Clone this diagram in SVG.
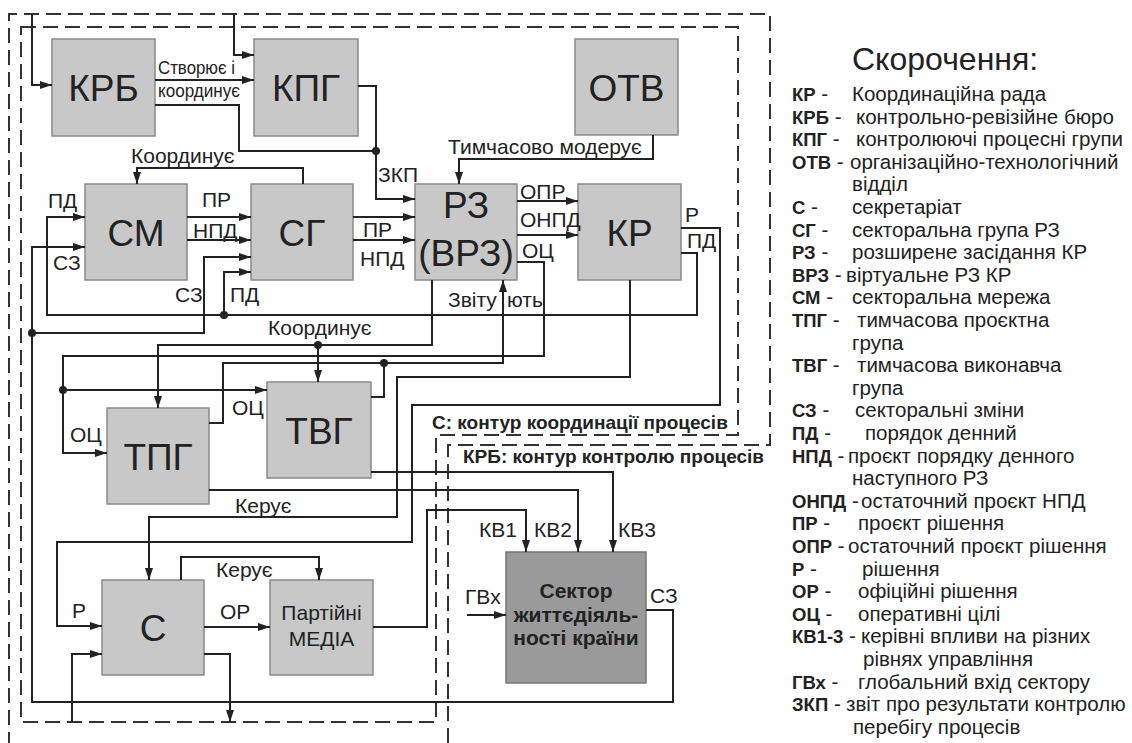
<svg xmlns="http://www.w3.org/2000/svg" width="1132" height="743" viewBox="0 0 1132 743">
<defs>
<marker id="arr" viewBox="0 0 12 8" refX="12" refY="4" markerWidth="12" markerHeight="8" markerUnits="userSpaceOnUse" orient="auto"><path d="M0,0 L12,4 L0,8 z" fill="#222"/></marker>
<style>
text{font-family:"Liberation Sans",Arial,sans-serif;fill:#222}
.n{fill:#c8c8c8;stroke:#8a8a8a;stroke-width:1.5}
.ns{fill:#9a9a9a;stroke:#777;stroke-width:1.5}
.big{font-size:37px;text-anchor:middle}
.lb{font-size:21px}
.c path{fill:none;stroke:#222;stroke-width:2}
.c .a{marker-end:url(#arr)}
.dot{fill:#222}
.dash{fill:none;stroke:#333;stroke-width:2;stroke-dasharray:15 7}
.lg{font-size:20.5px}
.lg tspan.b{font-weight:bold;font-size:18.5px}
.ct{font-size:19px;font-weight:bold}
.sec{font-size:21px;font-weight:bold;text-anchor:middle}
</style>
</defs>
<rect width="1132" height="743" fill="#fff"/>
<g id="contours">
<path class="dash" d="M448,743 V445 H770 V14 H9 V743"/>
<path class="dash" d="M21,27 H738 V435 H436 V722 H21 Z"/>
<text class="ct" x="432" y="429">С: контур координації процесів</text>
<text class="ct" x="463" y="463">КРБ: контур контролю процесів</text>
</g>
<g id="node-krb"><rect class="n" x="52" y="39" width="103" height="97"/><text class="big" x="103.5" y="101">КРБ</text></g>
<g id="node-kpg"><rect class="n" x="254" y="39" width="104" height="97"/><text class="big" x="306" y="101">КПГ</text></g>
<g id="node-otv"><rect class="n" x="575" y="39" width="103" height="96"/><text class="big" x="626.5" y="100.5">ОТВ</text></g>
<g id="node-sm"><rect class="n" x="85" y="184" width="102" height="96"/><text class="big" x="136" y="245.5">СМ</text></g>
<g id="node-sg"><rect class="n" x="251" y="184" width="102" height="96"/><text class="big" x="302" y="245.5">СГ</text></g>
<g id="node-rz"><rect class="n" x="415" y="184" width="102" height="96"/><text class="big" x="466" y="218">РЗ</text><text class="big" x="466" y="266">(ВРЗ)</text></g>
<g id="node-kr"><rect class="n" x="578" y="184" width="103" height="96"/><text class="big" x="629.5" y="245.5">КР</text></g>
<g id="node-tpg"><rect class="n" x="107" y="408" width="102" height="96"/><text class="big" x="158" y="469.5">ТПГ</text></g>
<g id="node-tvg"><rect class="n" x="267" y="382" width="104" height="96"/><text class="big" x="319" y="443.5">ТВГ</text></g>
<g id="node-s"><rect class="n" x="102" y="580" width="102" height="95"/><text class="big" x="153" y="641">С</text></g>
<g id="node-media"><rect class="n" x="270" y="580" width="103" height="95"/><text font-size="21" text-anchor="middle" x="321.5" y="620">Партійні</text><text font-size="21" text-anchor="middle" x="321.5" y="646">МЕДІА</text></g>
<g id="node-sector"><rect class="ns" x="506" y="552" width="140" height="131"/><text class="sec" x="576" y="598">Сектор</text><text class="sec" x="576" y="622">життєдіяль-</text><text class="sec" x="576" y="645">ності країни</text></g>
<g id="connectors" class="c">
<path class="a" d="M32,14 V85 H52"/>
<path class="a" d="M234,14 V55 H254"/>
<path class="a" d="M155,80 H254"/>
<path d="M155,105 H239 V151 H376"/>
<path class="a" d="M358,86 H376 V199 H415"/>
<path class="a" d="M303,184 V168 H137 V184"/>
<path class="a" d="M187,217 H251"/>
<path class="a" d="M187,240 H251"/>
<path class="a" d="M353,217 H415"/>
<path class="a" d="M353,240 H415"/>
<path class="a" d="M517,201 H578"/>
<path class="a" d="M517,235 H578"/>
<path class="a" d="M517,262 H544 V356 H63 V453 H107"/>
<path class="a" d="M63,390 H267"/>
<path class="a" d="M653,135 V159 H459 V184"/>
<path class="a" d="M681,228 H720 V405 H412 V542 H57 V626 H102"/>
<path class="a" d="M681,253 H697 V315 H47 V217 H85"/>
<path class="a" d="M224,315 V272 H251"/>
<path class="a" d="M646,610 H673 V702 H32 V247 H85"/>
<path class="a" d="M32,333 H204 V257 H251"/>
<path class="a" d="M432,280 V345 H158 V408"/>
<path class="a" d="M318,345 V382"/>
<path class="a" d="M209,423 H223 V363 H503 V280"/>
<path d="M371,397 H384 V363"/>
<path class="a" d="M630,280 V377 H397 V517 H149 V580"/>
<path class="a" d="M371,472 H613 V552"/>
<path class="a" d="M209,490 H578 V552"/>
<path class="a" d="M373,627 H427 V510 H526 V552"/>
<path class="a" d="M467,615 H506"/>
<path class="a" d="M204,627 H270"/>
<path class="a" d="M181,580 V557 H319 V580"/>
<path class="a" d="M72,722 V654 H102"/>
<path class="a" d="M204,654 H230 V722"/>
<circle class="dot" cx="376" cy="151" r="4"/>
<circle class="dot" cx="224" cy="315" r="4"/>
<circle class="dot" cx="32" cy="333" r="4"/>
<circle class="dot" cx="63" cy="390" r="4"/>
<circle class="dot" cx="318" cy="345" r="4"/>
<circle class="dot" cx="384" cy="363" r="4"/>
</g>
<g id="connector-labels" class="lb">
<text x="158" y="74" font-size="19" textLength="77" lengthAdjust="spacingAndGlyphs">Створює і</text>
<text x="158" y="97" font-size="19" textLength="82" lengthAdjust="spacingAndGlyphs">координує</text>
<text x="378" y="182">ЗКП</text>
<text x="131" y="163">Координує</text>
<text x="202" y="207">ПР</text>
<text x="193" y="238">НПД</text>
<text x="363" y="237">ПР</text>
<text x="360" y="266">НПД</text>
<text x="448" y="154">Тимчасово модерує</text>
<text x="520" y="199">ОПР</text>
<text x="520" y="227">ОНПД</text>
<text x="522" y="258">ОЦ</text>
<text x="685" y="222">Р</text>
<text x="687" y="248">ПД</text>
<text x="48" y="208">ПД</text>
<text x="53" y="270">СЗ</text>
<text x="175" y="302">СЗ</text>
<text x="230" y="302">ПД</text>
<text x="448" y="307">Звіту<tspan x="507">ють</tspan></text>
<text x="268" y="335">Координує</text>
<text x="232" y="415">ОЦ</text>
<text x="70" y="442">ОЦ</text>
<text x="235" y="513">Керує</text>
<text x="216" y="577">Керує</text>
<text x="72" y="618">Р</text>
<text x="220" y="619">ОР</text>
<text x="479" y="537">КВ1</text>
<text x="534" y="537">КВ2</text>
<text x="618" y="537">КВ3</text>
<text x="465" y="604">ГВх</text>
<text x="650" y="603">СЗ</text>
</g>
<g id="legend" class="lg">
<text x="852" y="70" font-size="32">Скорочення:</text>
<text x="792" y="101"><tspan class="b">КР</tspan> -<tspan x="852">Координаційна рада</tspan></text>
<text x="792" y="123.6"><tspan class="b">КРБ</tspan> -<tspan x="856">контрольно-ревізійне бюро</tspan></text>
<text x="792" y="146.2"><tspan class="b">КПГ</tspan> -<tspan x="856">контролюючі процесні групи</tspan></text>
<text x="792" y="168.8"><tspan class="b">ОТВ</tspan> -<tspan x="850">організаційно-технологічний</tspan></text>
<text x="852" y="191.4">відділ</text>
<text x="792" y="214"><tspan class="b">С</tspan> -<tspan x="852">секретаріат</tspan></text>
<text x="792" y="236.6"><tspan class="b">СГ</tspan> -<tspan x="852">секторальна група РЗ</tspan></text>
<text x="792" y="259.2"><tspan class="b">РЗ</tspan> -<tspan x="852">розширене засідання КР</tspan></text>
<text x="792" y="281.8"><tspan class="b">ВРЗ</tspan> -<tspan x="846">віртуальне РЗ КР</tspan></text>
<text x="792" y="304.4"><tspan class="b">СМ</tspan> -<tspan x="852">секторальна мережа</tspan></text>
<text x="792" y="327"><tspan class="b">ТПГ</tspan> -<tspan x="857">тимчасова проєктна</tspan></text>
<text x="852" y="349.6">група</text>
<text x="792" y="372.2"><tspan class="b">ТВГ</tspan> -<tspan x="857">тимчасова виконавча</tspan></text>
<text x="852" y="394.8">група</text>
<text x="792" y="417.4"><tspan class="b">СЗ</tspan> -<tspan x="855">секторальні зміни</tspan></text>
<text x="792" y="440"><tspan class="b">ПД</tspan> -<tspan x="865">порядок денний</tspan></text>
<text x="792" y="462.6"><tspan class="b">НПД</tspan> -<tspan x="848">проєкт порядку денного</tspan></text>
<text x="852" y="485.2">наступного РЗ</text>
<text x="792" y="507.8"><tspan class="b">ОНПД</tspan> -<tspan x="861">остаточний проєкт НПД</tspan></text>
<text x="792" y="530.4"><tspan class="b">ПР</tspan> -<tspan x="858">проєкт рішення</tspan></text>
<text x="792" y="553"><tspan class="b">ОПР</tspan> -<tspan x="848">остаточний проєкт рішення</tspan></text>
<text x="792" y="575.6"><tspan class="b">Р</tspan> -<tspan x="862">рішення</tspan></text>
<text x="792" y="598.2"><tspan class="b">ОР</tspan> -<tspan x="858">офіційні рішення</tspan></text>
<text x="792" y="620.8"><tspan class="b">ОЦ</tspan> -<tspan x="858">оперативні цілі</tspan></text>
<text x="792" y="643.4"><tspan class="b">КВ1-3</tspan> -<tspan x="861">керівні впливи на різних</tspan></text>
<text x="863" y="666">рівнях управління</text>
<text x="792" y="688.6"><tspan class="b">ГВх</tspan> -<tspan x="858">глобальний вхід сектору</tspan></text>
<text x="792" y="711.2"><tspan class="b">ЗКП</tspan> -<tspan x="846">звіт про результати контролю</tspan></text>
<text x="853" y="733.8">перебігу процесів</text>
</g>
</svg>
